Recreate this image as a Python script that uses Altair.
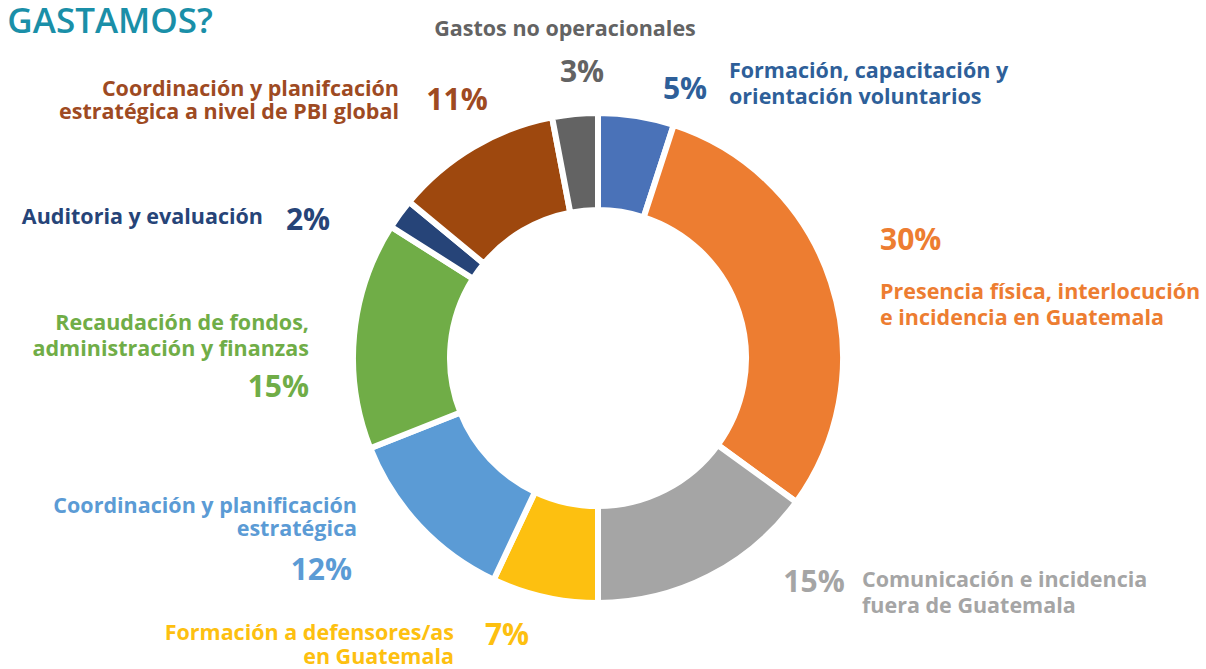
import altair as alt
import pandas as pd

# ---- data ----
categories = [
    "Formación, capacitación y orientación voluntarios",
    "Presencia física, interlocución e incidencia en Guatemala",
    "Comunicación e incidencia fuera de Guatemala",
    "Formación a defensores/as en Guatemala",
    "Coordinación y planificación estratégica",
    "Recaudación de fondos, administración y finanzas",
    "Auditoria y evaluación",
    "Coordinación y planifcación estratégica a nivel de PBI global",
    "Gastos no operacionales",
]
values = [5, 30, 15, 7, 12, 15, 2, 11, 3]
slice_colors = ["#4A72B8", "#ED7D31", "#A5A5A5", "#FDC010", "#5B9BD5",
                "#70AD47", "#264478", "#9E480E", "#636363"]

title_text = "¿EN QUÉ GASTAMOS?"

label_text = [
    "Gastos no operacionales", "3%",
    "5%", "Formación, capacitación y", "orientación voluntarios",
    "Coordinación y planifcación", "estratégica a nivel de PBI global", "11%",
    "Auditoria y evaluación", "2%",
    "Recaudación de fondos,", "administración y finanzas", "15%",
    "Coordinación y planificación", "estratégica", "12%",
    "Formación a defensores/as", "en Guatemala", "7%",
    "15%", "Comunicación e incidencia", "fuera de Guatemala",
    "30%", "Presencia física, interlocución", "e incidencia en Guatemala",
]
label_color = [
    "#636363", "#636363",
    "#2E5F99", "#2E5F99", "#2E5F99",
    "#9E4A22", "#9E4A22", "#9E4A22",
    "#264478", "#264478",
    "#70AD47", "#70AD47", "#70AD47",
    "#5B9BD5", "#5B9BD5", "#5B9BD5",
    "#FDC010", "#FDC010", "#FDC010",
    "#A5A5A5", "#A5A5A5", "#A5A5A5",
    "#ED7D31", "#ED7D31", "#ED7D31",
]
# layout (pixels)
label_x = [565, 582, 685, 729, 729, 399, 399, 457, 263, 308, 309, 309, 309,
           357, 357, 352, 454, 454, 507, 814, 862, 862, 880, 880, 880]
label_y = [30, 73, 90, 72, 98, 90, 113, 101, 218, 221, 324, 350, 388,
           507, 530, 571, 634, 658, 636, 583, 581, 607, 241, 293, 319]
label_align = ["center", "center", "center", "left", "left", "right", "right",
               "center", "right", "center", "right", "right", "right",
               "right", "right", "right", "right", "right", "center",
               "center", "left", "left", "left", "left", "left"]
NAME_SIZE = 21.5
PCT_SIZE = 30
label_is_pct = [t.endswith("%") for t in label_text]

FONT = "Open Sans"

pie_df = pd.DataFrame({
    "cat": categories,
    "value": values,
    "idx": list(range(len(values))),
})

lab_df = pd.DataFrame({
    "text": label_text, "color": label_color, "x": label_x, "y": label_y,
    "align": label_align,
    "size": [PCT_SIZE if p else NAME_SIZE for p in label_is_pct],
})

donut = alt.Chart(pie_df).mark_arc(
    innerRadius=148, outerRadius=245, stroke="white", strokeWidth=6
).encode(
    theta=alt.Theta("value:Q", stack=True, scale=alt.Scale(range=[0, 6.283185307])),
    color=alt.Color("cat:N", scale=alt.Scale(domain=categories, range=slice_colors), legend=None),
    order=alt.Order("idx:Q"),
    x=alt.value(598),
    y=alt.value(358),
)

layers = [donut]
for al in ["left", "right", "center"]:
    layers.append(
        alt.Chart(lab_df).transform_filter(alt.datum.align == al).mark_text(
            align=al, baseline="middle", font=FONT, fontWeight="bold"
        ).encode(
            x=alt.X("x:Q", scale=None, axis=None),
            y=alt.Y("y:Q", scale=None, axis=None),
            text="text:N",
            color=alt.Color("color:N", scale=None),
            size=alt.Size("size:Q", scale=None),
        )
    )

title = alt.Chart(pd.DataFrame({"t": [title_text]})).mark_text(
    align="right", baseline="middle", font=FONT, fontWeight=600, fontSize=35,
    color="#1A8FA8"
).encode(text="t:N", x=alt.value(213), y=alt.value(22))
layers.append(title)

chart = alt.layer(*layers).properties(
    width=1206, height=669,
    autosize=alt.AutoSizeParams(type="none"),
    padding=0,
).configure_view(stroke=None)

chart.save("out.html", embed_options={"renderer": "svg", "actions": False})
